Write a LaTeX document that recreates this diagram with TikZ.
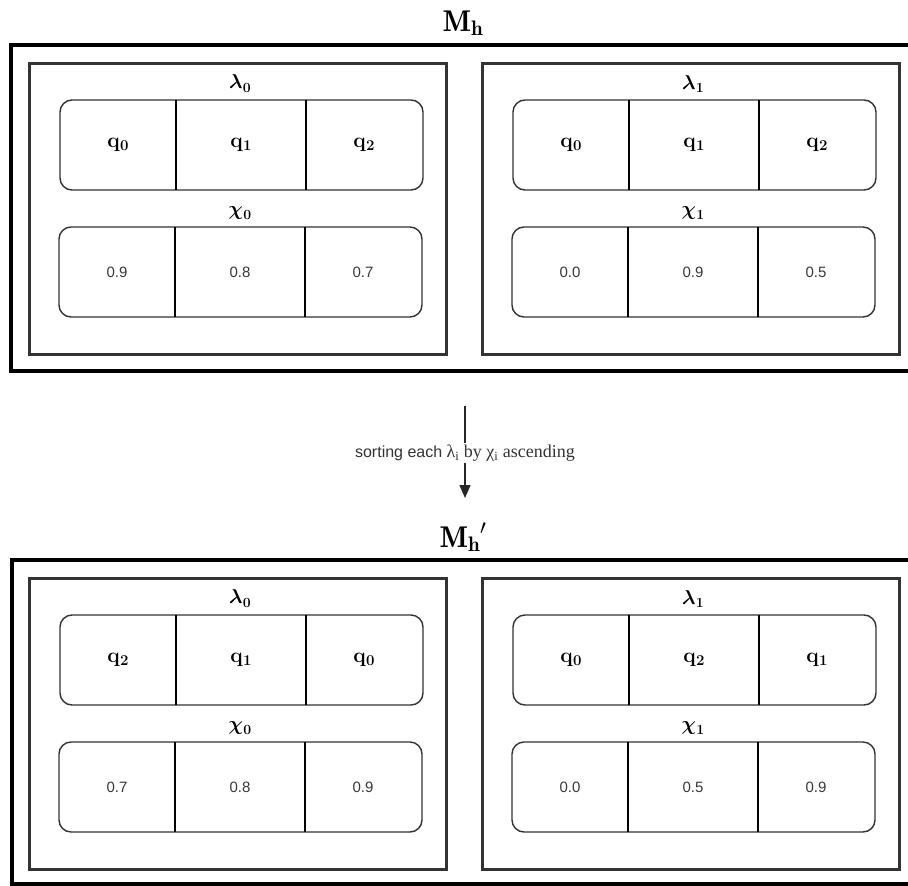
\RequirePackage{fix-cm}
\documentclass[tikz,border=0pt]{standalone}
\usepackage{amsmath}
\usepackage{bm}
\usepackage{fontspec}
\newfontfamily\valfont{Liberation Sans}
\newfontfamily\lserif{Liberation Serif}
\usetikzlibrary{arrows.meta}
\tikzset{
  outerbox/.style={draw=black, line width=4pt, inner sep=0pt, outer sep=0pt},
  panelbox/.style={draw=black!80, line width=3pt, inner sep=0pt, outer sep=0pt},
  rowbox/.style={draw=black!80, line width=1.4pt, rounded corners=12pt, inner sep=0pt, outer sep=0pt},
  divider/.style={draw=black, line width=1.1pt},
  qlabel/.style={font=\fontsize{21}{25}\selectfont\bfseries},
  vlabel/.style={font=\valfont\fontsize{15}{18}\selectfont, text=black!78},
  hlabel/.style={font=\fontsize{20}{24}\selectfont},
  titlelabel/.style={font=\fontsize{30}{34}\selectfont},
  arrowlabel/.style={font=\valfont\fontsize{16}{19}\selectfont, text=black!80, fill=white, inner sep=2pt},
}
\newcommand\qsym[1]{q\kern0.3pt\raisebox{-0.35ex}{\fontsize{15}{15}\selectfont #1}}
\newcommand\subsym[2]{$\bm{#1}$\kern0.3pt\raisebox{-0.45ex}{\fontsize{14}{14}\selectfont\bfseries #2}}
% name, x, y, idx, qa, qb, qc
\newcommand\mkpanel[7]{%
  \begin{scope}[shift={(#2,#3)}]
    \node[panelbox, anchor=north west, minimum width=417pt, minimum height=291pt] (#1) at (0,0) {};
    \node[hlabel] (#1-l) at (211,21) {\subsym{\lambda}{#4}};
    \node[rowbox, anchor=north west, minimum width=363pt, minimum height=90pt] (#1-r) at (31,37) {};
    \draw[divider] ([xshift=116pt]#1-r.north west) -- ([xshift=116pt]#1-r.south west);
    \draw[divider] ([xshift=246pt]#1-r.north west) -- ([xshift=246pt]#1-r.south west);
    \node[qlabel] (#1-q1) at ([xshift=58pt]#1-r.west) {\qsym{#5}};
    \node[qlabel] (#1-q2) at ([xshift=181pt]#1-r.west) {\qsym{#6}};
    \node[qlabel] (#1-q3) at ([xshift=304pt]#1-r.west) {\qsym{#7}};
    \node[hlabel] (#1-c) at (211,150) {\subsym{\chi}{#4}};
    \node[rowbox, anchor=north west, minimum width=363pt, minimum height=90pt] (#1-v) at (30,164) {};
    \draw[divider] ([xshift=116pt]#1-v.north west) -- ([xshift=116pt]#1-v.south west);
    \draw[divider] ([xshift=246pt]#1-v.north west) -- ([xshift=246pt]#1-v.south west);
  \end{scope}%
}
% name, va, vb, vc
\newcommand\mkvals[4]{%
  \node[vlabel] (#1-v1) at ([xshift=58pt]#1-v.west) {#2};
  \node[vlabel] (#1-v2) at ([xshift=181pt]#1-v.west) {#3};
  \node[vlabel] (#1-v3) at ([xshift=304pt]#1-v.west) {#4};
}
\begin{document}
\begin{tikzpicture}[x=1pt,y=-1pt]
\useasboundingbox (0,0) rectangle (908,886);
\fill[white] (0,0) rectangle (908,886);

% top group
\node[outerbox, anchor=north west, minimum width=930pt, minimum height=326pt] (MH) at (11,45) {};
\node[titlelabel, anchor=base] (TH) at (463,31) {$\mathbf{M_h}$};
\mkpanel{A0}{29}{63}{0}{0}{1}{2}
\mkvals{A0}{0.9}{0.8}{0.7}
\mkpanel{A1}{482}{63}{1}{0}{1}{2}
\mkvals{A1}{0.0}{0.9}{0.5}

% arrow
\coordinate (astart) at (465,406);
\coordinate (aend) at (465,498);
\draw[line width=1.4pt, black!85, -{Triangle[length=13pt,width=11pt]}] (astart) -- (aend);
\node[arrowlabel] (lbl) at (465,453) {sorting each {\lserif\fontsize{18}{20}\selectfont λ\textsubscript{i} by χ\textsubscript{i} ascending}};

% bottom group
\node[outerbox, anchor=north west, minimum width=930pt, minimum height=324pt] (MHP) at (12,560) {};
\node[titlelabel, anchor=base] (THP) at (463,547) {$\mathbf{M_h}^{\prime}$};
\mkpanel{B0}{29}{578}{0}{2}{1}{0}
\mkvals{B0}{0.7}{0.8}{0.9}
\mkpanel{B1}{482}{578}{1}{0}{2}{1}
\mkvals{B1}{0.0}{0.5}{0.9}
\end{tikzpicture}
\end{document}
